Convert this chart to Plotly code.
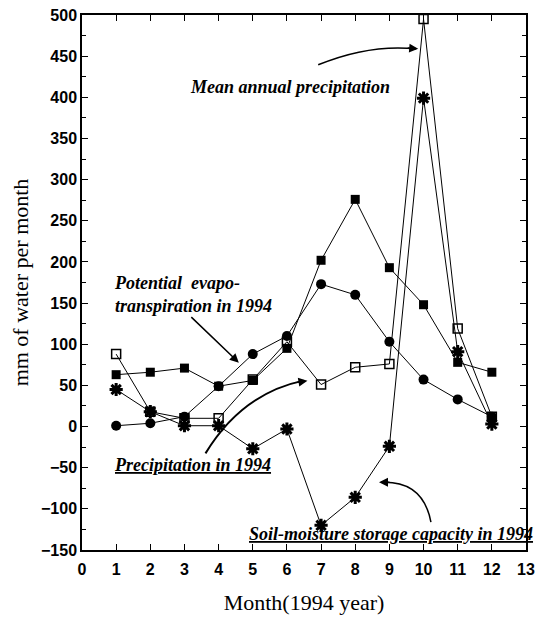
import plotly.graph_objects as go

months = [1, 2, 3, 4, 5, 6, 7, 8, 9, 10, 11, 12]
mean_annual_precip = [88, 18, 10, 10, 57, 103, 51, 72, 76, 495, 119, 12]
series_filled_sq = [63, 66, 71, 49, 56, 95, 202, 276, 193, 148, 78, 66]
series_circle = [1, 4, 12, 49, 88, 110, 173, 160, 103, 57, 33, 12]
soil_moisture = [45, 18, 1, 1, -27, -3, -120, -86, -24, 399, 91, 3]

x_ticks = list(range(0, 14))
y_ticks = list(range(-150, 501, 50))

# plot-area geometry (pixels) used to place annotation shapes
L, R, T, B = 82, 535, 13, 550
X0, X1, Y0, Y1 = 0, 13, -150, 500


def pd(px, py):
    x = X0 + (px - L) / (R - L) * (X1 - X0)
    y = Y1 - (py - T) / (B - T) * (Y1 - Y0)
    return x, y


fig = go.Figure()
line = dict(color="black", width=1)
fig.add_trace(go.Scatter(x=months, y=series_filled_sq, mode="lines+markers", line=line,
                         marker=dict(symbol="square", size=9, color="black")))
fig.add_trace(go.Scatter(x=months, y=series_circle, mode="lines+markers", line=line,
                         marker=dict(symbol="circle", size=10, color="black")))
fig.add_trace(go.Scatter(x=months, y=mean_annual_precip, mode="lines+markers", line=line,
                         marker=dict(symbol="square-open", size=9, color="black",
                                     line=dict(width=1.5, color="black"))))
fig.add_trace(go.Scatter(x=months, y=soil_moisture, mode="lines+markers", line=line,
                         marker=dict(symbol="asterisk", size=11, color="black",
                                     line=dict(width=3, color="black"))))

serif = "Liberation Serif"
afont = dict(family=serif, size=18, color="black", style="italic", weight="bold")

annotations = []


def text(px, py, s, anchor="left"):
    x, y = pd(px, py)
    annotations.append(dict(x=x, y=y, xref="x", yref="y", text=s, showarrow=False,
                            xanchor=anchor, yanchor="middle", align="left", font=afont))


text(190, 85, "Mean annual precipitation")
text(113, 294, "Potential  evapo-<br>transpiration in 1994")
text(113, 465, "<u>Precipitation in 1994</u>")
text(250, 534, "<u>Soil-moisture storage capacity in 1994</u>")

shapes = []


def curve(p0, c, p1, width):
    a = pd(*p0)
    b = pd(*c)
    d = pd(*p1)
    shapes.append(dict(type="path", xref="x", yref="y",
                       path=f"M {a[0]},{a[1]} Q {b[0]},{b[1]} {d[0]},{d[1]}",
                       line=dict(color="black", width=width)))


def head(tip, ax, ay):
    x, y = pd(*tip)
    annotations.append(dict(x=x, y=y, xref="x", yref="y", ax=ax, ay=ay, text="",
                            showarrow=True, arrowhead=2, arrowsize=1.2, arrowwidth=1.5,
                            arrowcolor="black"))


curve((323, 63), (375, 42), (423, 47), 1.5)
head((425, 47), -12, -1)
curve((208, 453), (245, 393), (308, 380), 2)
head((312, 380), -12, 2)
curve((438, 522), (430, 480), (387, 482), 1.5)
head((385, 482), 12, 0)

tip = pd(242, 362)
annotations.append(dict(x=tip[0], y=tip[1], xref="x", yref="y", ax=-49, ay=-47, text="",
                        showarrow=True, arrowhead=2, arrowsize=1.2, arrowwidth=1.5,
                        arrowcolor="black"))

tickfont = dict(family="Liberation Sans", size=16, color="black", weight="bold")
titlefont = dict(family=serif, size=22, color="black")
fig.update_layout(
    width=542, height=618,
    margin=dict(l=L, r=542 - R, t=T, b=618 - B),
    paper_bgcolor="white", plot_bgcolor="white",
    showlegend=False,
    annotations=annotations, shapes=shapes,
    xaxis=dict(range=[X0, X1], tickvals=x_ticks, ticks="inside", ticklen=6,
               tickcolor="black", showline=True, linecolor="black", linewidth=1.5,
               mirror="ticks", showgrid=False, zeroline=False, tickfont=tickfont,
               ticklabelstandoff=4,
               title=dict(text="Month(1994 year)", font=titlefont, standoff=18)),
    yaxis=dict(range=[Y0, Y1], tickvals=y_ticks, ticks="inside", ticklen=6,
               tickcolor="black", showline=True, linecolor="black", linewidth=1.5,
               mirror="ticks", showgrid=False, zeroline=False, tickfont=tickfont,
               minor=dict(dtick=25, ticks="inside", ticklen=4, tickcolor="black"),
               title=dict(text="mm of water per month", font=titlefont, standoff=6)),
)

fig.write_html("out.html")
